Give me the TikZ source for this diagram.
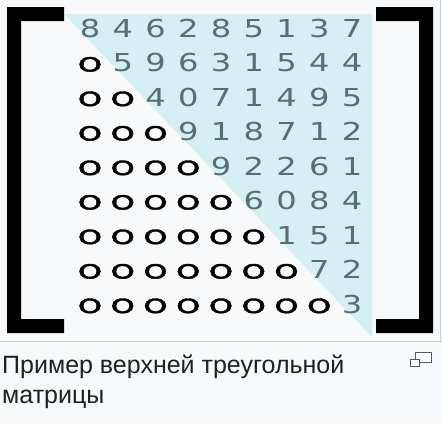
\documentclass[tikz,border=0pt]{standalone}
\usepackage{fontspec}
\setmainfont{Liberation Sans}
\newfontfamily\digfont{DejaVu Sans}
\newfontfamily\zerofont[Numbers=OldStyle, UprightFeatures={FakeBold=1.3}]{Fira Sans}
\usepackage{graphicx}
\definecolor{bgcol}{HTML}{F8F9FA}
\definecolor{bordercol}{HTML}{C8CCD1}
\definecolor{tricol}{HTML}{D5F0F4}
\definecolor{digcol}{HTML}{5A6D70}
\definecolor{capcol}{HTML}{202122}
\definecolor{iconcol}{HTML}{54595D}
\tikzset{
  dig/.style={anchor=base, inner sep=0pt, text=digcol, font=\digfont\fontsize{24.7}{24.7}\selectfont},
  zero/.style={anchor=base, inner sep=0pt, text=black, font=\zerofont\fontsize{24}{24}\selectfont},
  brack/.style={fill=black},
  captext/.style={anchor=base west, inner sep=0pt, text=capcol, font=\fontsize{25}{30}\selectfont},
  iconbox/.style={draw=iconcol, line width=1pt, fill=white}
}
\begin{document}
\begin{tikzpicture}[x=1pt,y=-1pt]
\useasboundingbox (0,0) rectangle (442,424);
\fill[bgcol] (0,0) rectangle (442,424);
% highlighted upper triangle
\fill[tricol] (64,14) -- (372,14) -- (372,337) -- cycle;
% brackets
\fill[brack] (7,7) -- (64,7) -- (64,21) -- (21,21) -- (21,319) -- (64,319) -- (64,333) -- (7,333) -- cycle;
\fill[brack] (376,7) -- (433,7) -- (433,333) -- (376,333) -- (376,319) -- (419,319) -- (419,21) -- (376,21) -- cycle;
% matrix entries
\foreach \r/\row in {1/{8,4,6,2,8,5,1,3,7},2/{0,5,9,6,3,1,5,4,4},3/{0,0,4,0,7,1,4,9,5},4/{0,0,0,9,1,8,7,1,2},5/{0,0,0,0,9,2,2,6,1},6/{0,0,0,0,0,6,0,8,4},7/{0,0,0,0,0,0,1,5,1},8/{0,0,0,0,0,0,0,7,2},9/{0,0,0,0,0,0,0,0,3}}{
  \foreach \d [count=\c] in \row {
    \ifnum\c<\r
      \node[zero] (d\r-\c) at ({90+32.75*(\c-1)},{37+34.5*(\r-1)}) {\resizebox{24pt}{14.5pt}{0}};
    \else
      \node[dig] (d\r-\c) at ({90+32.75*(\c-1)},{37+34.5*(\r-1)}) {\scalebox{1.3}[1]{\d}};
    \fi
  }
}
% frame border
\draw[bordercol, line width=1pt] (440.5,0) -- (440.5,341.5);
\draw[bordercol, line width=1pt] (0,341.5) -- (442,341.5);
% caption
\node[captext] (cap1) at (2,373) {Пример верхней треугольной};
\node[captext] (cap2) at (2,403) {матрицы};
% enlarge icon
\draw[iconbox] (415.5,352.5) rectangle (431.5,362.5);
\draw[iconbox] (410.5,359.5) rectangle (419.5,366.5);
\end{tikzpicture}
\end{document}
